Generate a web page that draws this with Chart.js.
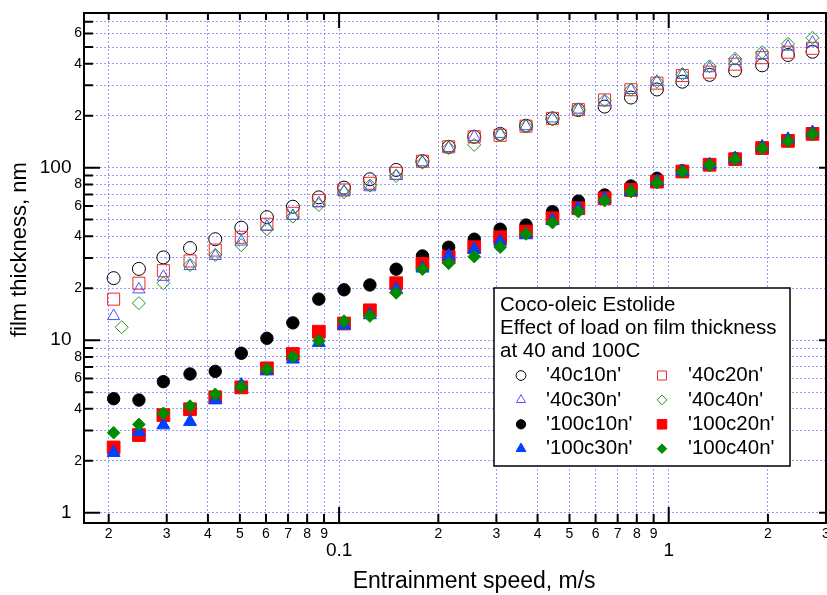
<!DOCTYPE html>
<html>
<head>
<meta charset="utf-8">
<script src="https://cdn.jsdelivr.net/npm/chart.js@4.4.0/dist/chart.umd.min.js"></script>
<style>
  html, body { margin: 0; padding: 0; background: #fff; }
  #wrap { width: 827px; height: 595px; }
</style>
</head>
<body>
<div id="wrap"><canvas id="chart" width="827" height="595"></canvas></div>
<script>
// Coco-oleic Estolide — film thickness vs entrainment speed (log-log)

// ── data ──
const speed = [
  0.0207, 0.0247, 0.0293, 0.0353, 0.0421, 0.0505, 0.0604, 0.0724, 0.0868, 0.1035,
  0.124, 0.149, 0.179, 0.215, 0.257, 0.308, 0.369, 0.444, 0.532, 0.639,
  0.768, 0.921, 1.10, 1.33, 1.59, 1.92, 2.30, 2.73,
];
// 40c40n starts a little later than the others
const speed40c40n = [0.0219, ...speed.slice(1)];

const t40c10n = [22.9, 25.9, 30.2, 34.2, 38.5, 44.9, 51.6, 59.4, 67.3, 76.6, 85.7, 97, 109, 132, 151, 157, 175, 193, 216, 226, 255, 284, 315, 345, 366, 392, 450, 470];
const t40c20n = [17.3, 21.4, 25.3, 28.8, 33.3, 39.5, 47, 54.4, 64.4, 74.3, 81.2, 92.8, 109, 132, 151, 154, 174, 193, 217, 247, 283, 309, 342, 358, 398, 434, 467, 492];
const t40c30n = [13.8, 19.7, 23.3, 26.9, 30.8, 37.3, 45.5, 52.5, 62.2, 72.6, 77, 89.5, 107.5, 130, 151, 157, 174, 193, 217, 241, 282, 315, 345, 377, 416, 450, 503, 531];
const t40c40n = [11.9, 16.4, 21.4, 27.3, 31.2, 35.6, 44, 52, 60.8, 72, 78.7, 89.5, 106.9, 130, 135.5, 155.3, 174, 190, 217, 245, 283, 315, 349, 387, 428, 467, 522, 566];
const t100c10n = [4.58, 4.5, 5.75, 6.37, 6.6, 8.4, 10.26, 12.6, 17.3, 19.6, 20.9, 25.8, 30.8, 34.6, 38.5, 44, 46.5, 55.6, 64, 69.5, 78.3, 86.8, 96, 104, 113, 130, 143, 157];
const t100c20n = [2.39, 2.82, 3.68, 3.98, 4.67, 5.33, 6.87, 8.32, 11.2, 12.5, 14.9, 21.4, 27.7, 30.3, 34.6, 39.5, 42.6, 50.9, 58.2, 66.5, 74.3, 83, 95, 104, 112, 130, 143, 157];
const t100c30n = [2.23, 2.95, 3.22, 3.37, 4.5, 5.5, 6.63, 7.75, 9.68, 12.2, 14, 19.7, 26.1, 30.8, 33.6, 37.3, 40.7, 49.3, 58, 66, 72.6, 83, 95, 104, 113, 132, 146, 160];
const t100c40n = [2.91, 3.25, 3.77, 4.15, 4.86, 5.38, 6.78, 8.02, 9.93, 12.9, 13.8, 18.8, 25.8, 27.9, 30.5, 34.6, 41.3, 48, 55.6, 64.4, 72.6, 81.8, 94.8, 103.7, 112, 129.5, 143, 156.7];

const xTicks = [0.02, 0.03, 0.04, 0.05, 0.06, 0.07, 0.08, 0.09,
  0.1, 0.2, 0.3, 0.4, 0.5, 0.6, 0.7, 0.8, 0.9, 1, 2, 3];
const yTicks = [1, 2, 3, 4, 5, 6, 7, 8, 9, 10, 20, 30, 40, 50, 60, 70, 80, 90,
  100, 200, 300, 400, 500, 600, 700];
const yLabelled = [1, 2, 4, 6, 8, 10, 20, 40, 60, 80, 100, 200, 400, 600];

const legendTitle = ["Coco-oleic Estolide", "Effect of load on film thickness", "at 40 and 100C"];

// ── helpers ──
const FONT = '"Liberation Sans", Arial, Helvetica, sans-serif';
const isDecade = (v) => Math.abs(Math.log10(v) - Math.round(Math.log10(v))) < 1e-9;
const leadDigit = (v) => String(Math.round(v / Math.pow(10, Math.floor(Math.log10(v) + 1e-9))));
const pts = (xs, ys) => ys.map((y, i) => ({ x: xs[i], y }));

function series(label, xs, ys, pointStyle, radius, color, filled) {
  return {
    label,
    data: pts(xs, ys),
    pointStyle,
    pointRadius: radius,
    pointHoverRadius: radius,
    borderWidth: 1,
    borderColor: color,
    backgroundColor: filled ? color : "rgba(0,0,0,0)",
    showLine: false,
  };
}

const datasets = [
  series("'40c10n'", speed, t40c10n, "circle", 6.5, "#000000", false),
  series("'40c20n'", speed, t40c20n, "rect", 8.5, "rgb(240,40,40)", false),
  series("'40c30n'", speed, t40c30n, "triangle", 7, "rgb(80,80,255)", false),
  series("'40c40n'", speed40c40n, t40c40n, "rectRot", 6.5, "rgb(30,150,30)", false),
  series("'100c10n'", speed, t100c10n, "circle", 6.2, "#000000", true),
  series("'100c20n'", speed, t100c20n, "rect", 9, "rgb(255,0,0)", true),
  series("'100c30n'", speed, t100c30n, "triangle", 7.5, "rgb(0,64,255)", true),
  series("'100c40n'", speed, t100c40n, "rectRot", 6.3, "rgb(0,140,0)", true),
];
// later series sit on top
datasets.forEach((d, i) => (d.order = datasets.length - 1 - i));

// ── frame + inward ticks ──
const frame = {
  id: "frame",
  afterDatasetsDraw(chart) {
    const { ctx, chartArea: a, scales: { x, y } } = chart;
    ctx.save();
    ctx.strokeStyle = "#000";
    ctx.lineWidth = 2;
    ctx.beginPath();
    for (const v of xTicks) {
      const px = x.getPixelForValue(v);
      const big = isDecade(v);
      ctx.moveTo(px, a.bottom);
      ctx.lineTo(px, a.bottom - (big ? 16 : 9));
      ctx.moveTo(px, a.top);
      ctx.lineTo(px, a.top + (big ? 15 : 7));
    }
    for (const v of yTicks) {
      const py = y.getPixelForValue(v);
      const big = isDecade(v);
      ctx.moveTo(a.left, py);
      ctx.lineTo(a.left + (big ? 16 : 9), py);
      if (big) {
        ctx.moveTo(a.right, py);
        ctx.lineTo(a.right - 7, py);
      }
    }
    ctx.stroke();
    ctx.strokeRect(a.left, a.top, a.right - a.left, a.bottom - a.top);
    ctx.restore();
  },
};

// ── boxed legend, two columns ──
const legendBox = {
  id: "legendBox",
  afterDraw(chart) {
    const ctx = chart.ctx;
    const box = { x: 494, y: 288, w: 296, h: 178 };
    ctx.save();
    ctx.fillStyle = "#fff";
    ctx.fillRect(box.x, box.y, box.w, box.h);
    ctx.strokeStyle = "#000";
    ctx.lineWidth = 1.5;
    ctx.strokeRect(box.x, box.y, box.w, box.h);

    ctx.fillStyle = "#000";
    ctx.font = "20.5px " + FONT;
    ctx.textBaseline = "middle";
    legendTitle.forEach((t, i) => ctx.fillText(t, box.x + 6, 305 + i * 23.3));

    chart.data.datasets.forEach((ds, i) => {
      const col = i % 2;
      const row = Math.floor(i / 2);
      const mx = col ? 662 : 521;
      const my = 375.5 + row * 24.4;
      ctx.fillStyle = ds.backgroundColor;
      ctx.strokeStyle = ds.borderColor;
      ctx.lineWidth = ds.borderWidth;
      Chart.helpers.drawPoint(ctx, {
        pointStyle: ds.pointStyle,
        radius: ds.pointRadius * 0.75,
        rotation: 0,
        borderWidth: ds.borderWidth,
      }, mx, my);
      ctx.fillStyle = "#000";
      ctx.fillText(ds.label, col ? 688 : 546, my);
    });
    ctx.restore();
  },
};

const gridOpts = {
  color: "rgba(100,100,255,0.65)",
  lineWidth: 1,
  drawTicks: false,
  borderDash: [2, 2],
};
const borderOpts = { display: false, dash: [2, 2] };

new Chart(document.getElementById("chart"), {
  type: "scatter",
  data: { datasets },
  options: {
    responsive: false,
    animation: false,
    layout: { autoPadding: false, padding: { top: 13, right: 1, left: 0, bottom: 0 } },
    plugins: { legend: { display: false }, tooltip: { enabled: false } },
    scales: {
      x: {
        type: "logarithmic",
        position: "bottom",
        min: 0.01683,
        max: 3,
        grid: gridOpts,
        border: borderOpts,
        afterBuildTicks: (s) => { s.ticks = xTicks.map((v) => ({ value: v })); },
        afterFit: (s) => {
          s.height = 72;
          s.paddingLeft = 0;
          s.paddingRight = 0;
        },
        ticks: {
          autoSkip: false,
          maxRotation: 0,
          minRotation: 0,
          padding: 3,
          color: "#000",
          font: (c) => isDecade(c.tick.value)
            ? { family: FONT, size: 19, lineHeight: 0.88 }
            : { family: FONT, size: 14, lineHeight: 1.2 },
          callback: (v) => (isDecade(v) ? ["", String(v)] : leadDigit(v)),
        },
        title: {
          display: true,
          text: "      Entrainment speed, m/s",
          color: "#000",
          font: { family: FONT, size: 23 },
          padding: { top: 0, bottom: 0 },
        },
      },
      y: {
        type: "logarithmic",
        position: "left",
        min: 0.872,
        max: 788,
        grid: gridOpts,
        border: borderOpts,
        afterBuildTicks: (s) => { s.ticks = yTicks.map((v) => ({ value: v })); },
        afterFit: (s) => {
          s.width = 84;
          s.paddingTop = 0;
          s.paddingBottom = 0;
        },
        ticks: {
          autoSkip: false,
          padding: 2,
          color: "#000",
          font: (c) => isDecade(c.tick.value)
            ? { family: FONT, size: 19 }
            : { family: FONT, size: 14 },
          callback: (v) => {
            if (!yLabelled.includes(v)) return "";
            return isDecade(v) ? String(v) + "  " : leadDigit(v);
          },
        },
        title: {
          display: true,
          text: "      film thickness, nm",
          color: "#000",
          font: { family: FONT, size: 22 },
          padding: { top: 7, bottom: 0 },
        },
      },
    },
  },
  plugins: [frame, legendBox],
});
</script>
</body>
</html>
